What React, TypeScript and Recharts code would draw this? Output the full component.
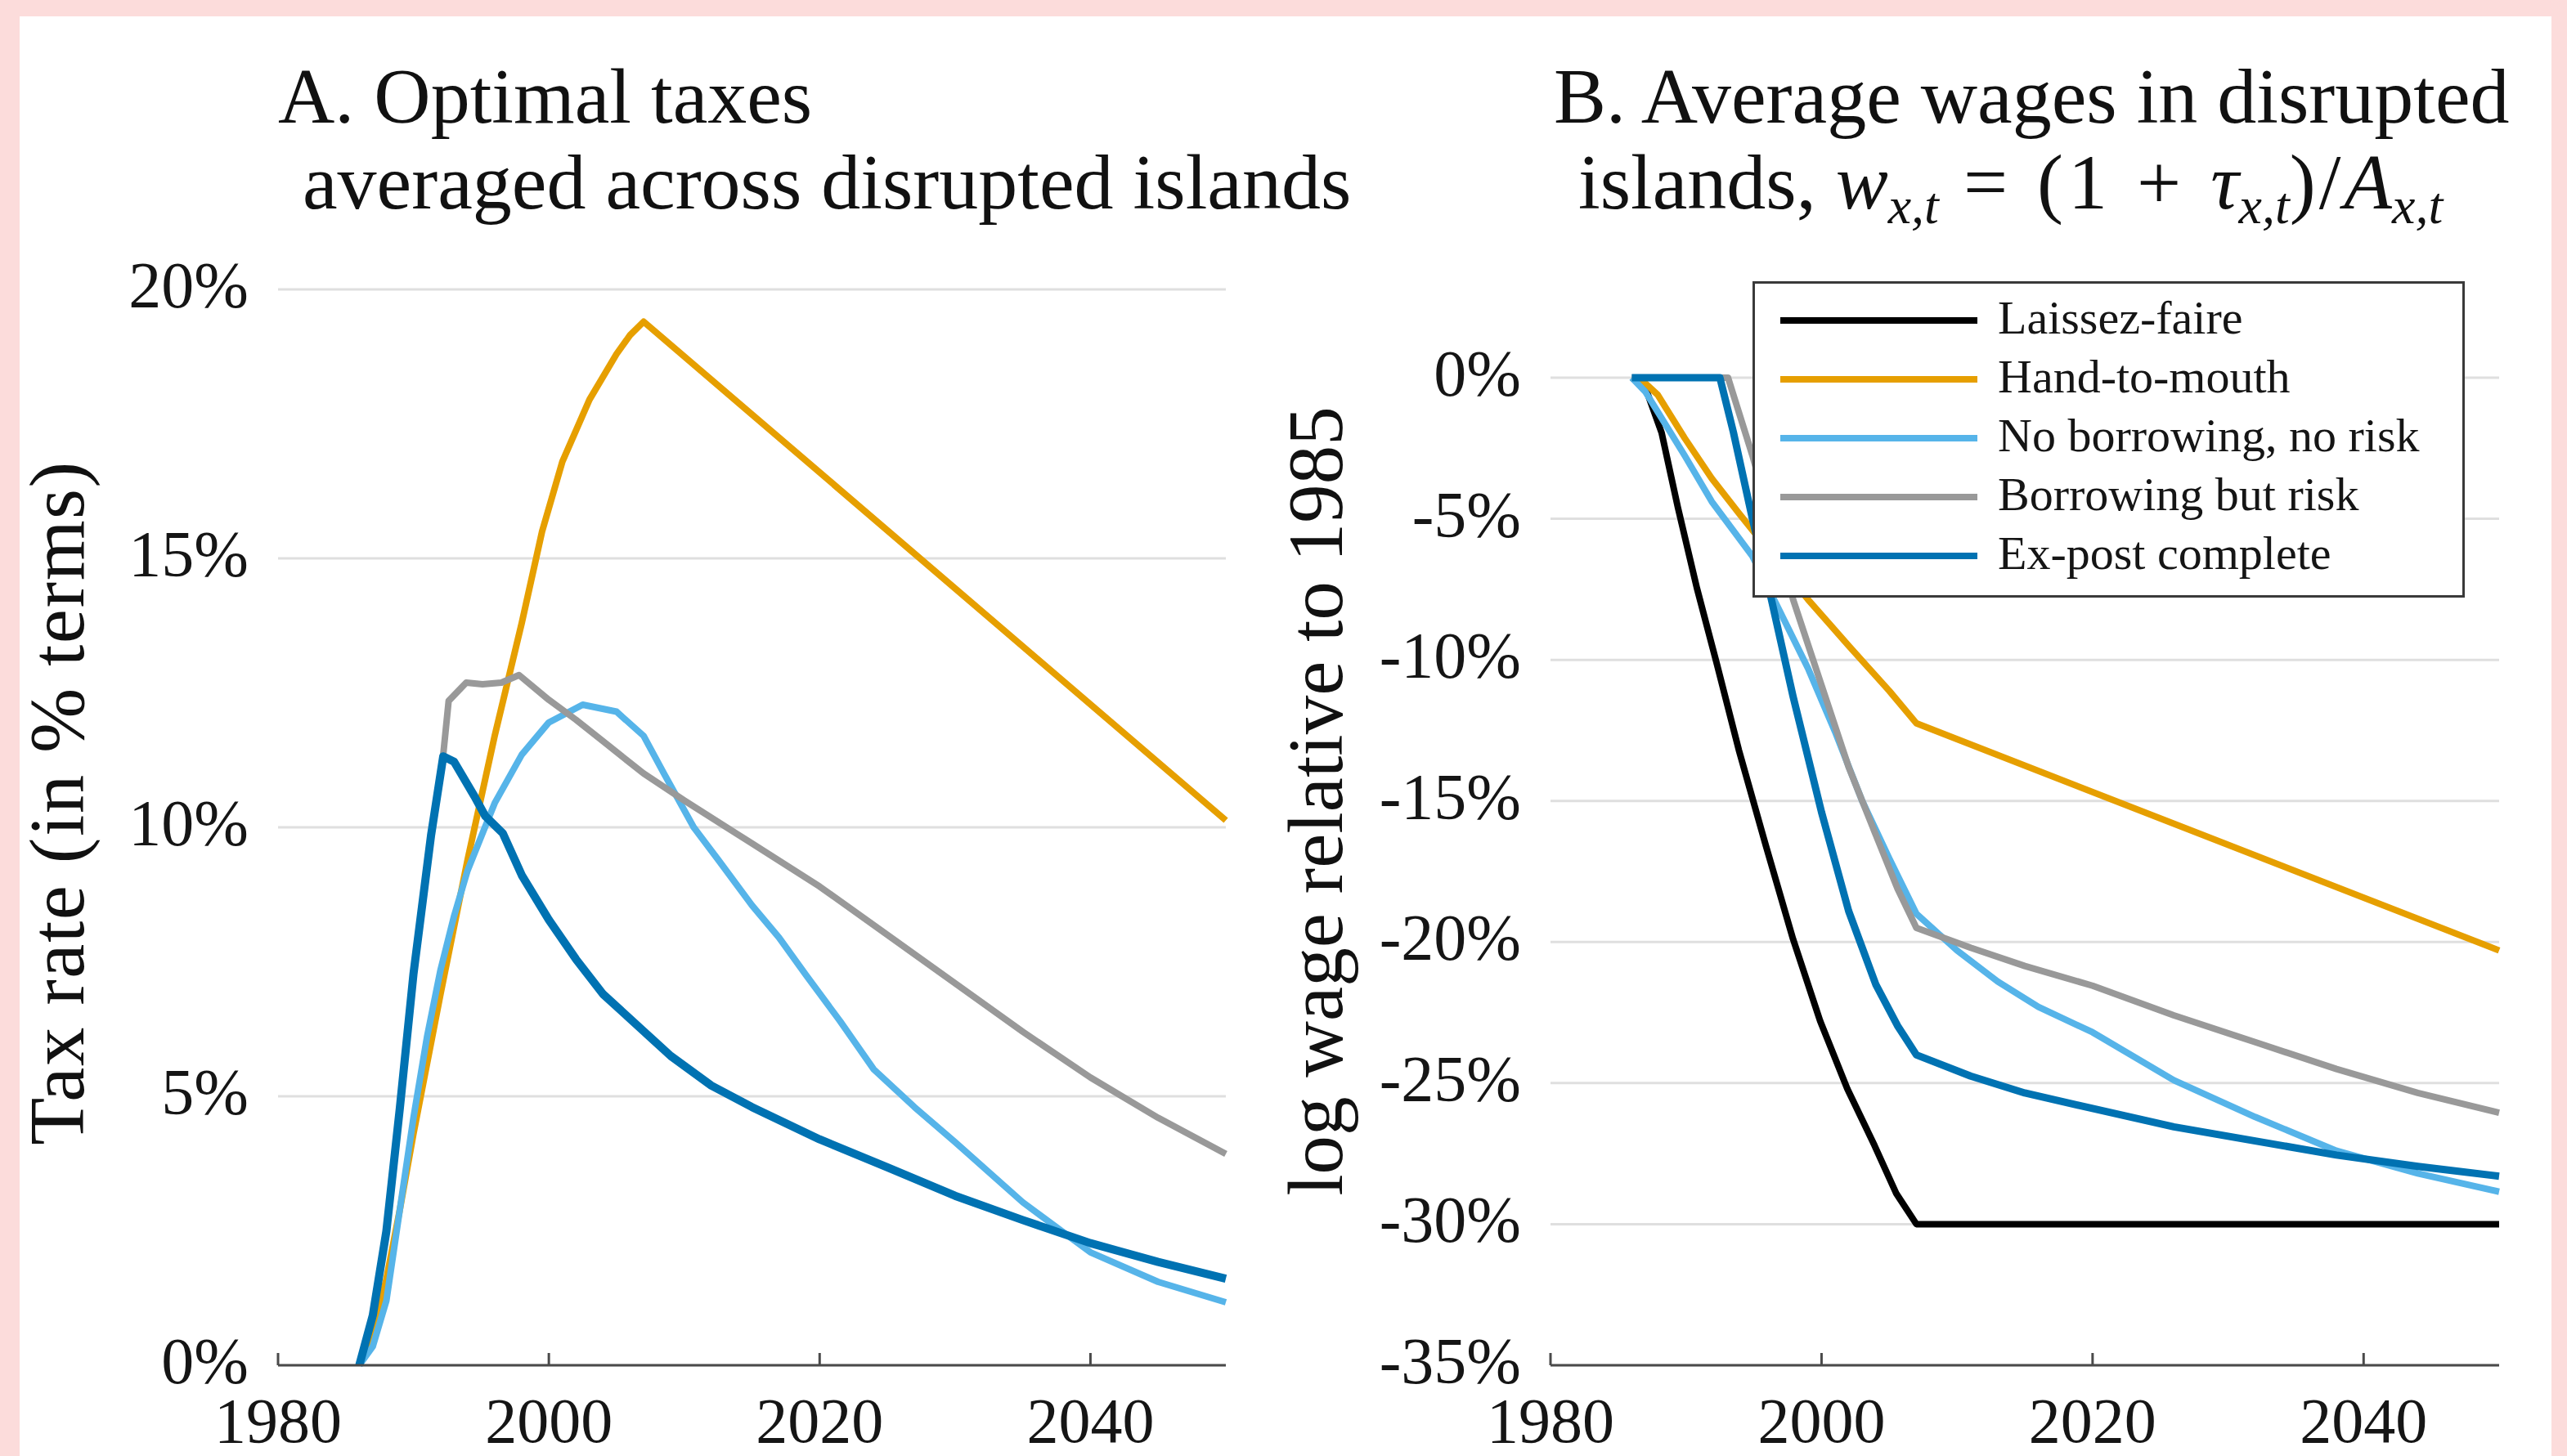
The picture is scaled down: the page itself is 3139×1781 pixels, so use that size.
import React from 'react';
import { LineChart, Line, XAxis, YAxis, CartesianGrid, Legend } from 'recharts';

const FONT = '"Liberation Serif", "Times New Roman", Times, serif';

const YEAR_TICKS = [1980, 2000, 2020, 2040];
const TAX_TICKS = [0, 5, 10, 15, 20];
const WAGE_TICKS = [-35, -30, -25, -20, -15, -10, -5, 0];

const SERIES_NAMES = ['Laissez-faire', 'Hand-to-mouth', 'No borrowing, no risk', 'Borrowing but risk', 'Ex-post complete'];
const SERIES_COLORS = ['#000000', '#E69F00', '#56B4E9', '#999999', '#0072B2'];

// Panel A: optimal taxes (%)
const taxHandYears = [1986, 1987, 1988, 1989, 1990, 1992, 1994, 1996, 1998, 1999.5, 2001, 2003, 2005, 2006, 2007, 2050];
const taxHand = [0, 0.6, 1.6, 2.9, 4.3, 6.9, 9.4, 11.7, 13.8, 15.5, 16.8, 17.95, 18.8, 19.15, 19.4, 10.13];

const taxNoBorrowYears = [1986, 1987, 1988, 1989, 1990, 1991, 1992, 1993, 1994, 1996, 1998, 2000, 2002.5, 2005, 2007, 2008.5, 2010.7, 2012.5, 2015, 2017, 2019, 2021.5, 2024, 2027, 2030, 2035, 2040, 2045, 2050];
const taxNoBorrow = [0, 0.35, 1.2, 2.9, 4.6, 6.1, 7.35, 8.35, 9.2, 10.45, 11.35, 11.95, 12.28, 12.15, 11.7, 11.0, 10.0, 9.4, 8.55, 7.95, 7.25, 6.4, 5.5, 4.8, 4.15, 3.03, 2.1, 1.55, 1.17];

const taxBorrowRiskYears = [1986, 1987, 1988, 1989, 1990, 1991.3, 1992.2, 1992.6, 1993.9, 1995.1, 1996.5, 1997.8, 2000, 2002, 2004, 2007, 2010, 2015, 2020, 2025, 2030, 2035, 2040, 2045, 2050];
const taxBorrowRisk = [0, 0.93, 2.49, 4.79, 7.27, 9.85, 11.35, 12.35, 12.69, 12.66, 12.69, 12.83, 12.37, 12.0, 11.6, 11.0, 10.5, 9.7, 8.9, 8.0, 7.1, 6.2, 5.35, 4.6, 3.93];

const taxExPostYears = [1986, 1987, 1988, 1989, 1990, 1991.3, 1992.2, 1993, 1994.5, 1995.3, 1996.6, 1998, 2000, 2002, 2004, 2007, 2009, 2012, 2015, 2020, 2025, 2030, 2035, 2040, 2045, 2050];
const taxExPost = [0, 0.93, 2.49, 4.79, 7.27, 9.85, 11.32, 11.22, 10.58, 10.21, 9.89, 9.11, 8.28, 7.55, 6.9, 6.21, 5.75, 5.2, 4.8, 4.2, 3.68, 3.15, 2.7, 2.27, 1.92, 1.61];

// Panel B: log wage relative to 1985 (%)
const wageLaissezYears = [1986, 1987, 1988.2, 1989.4, 1990.8, 1992.25, 1993.9, 1995.9, 1997.9, 1999.9, 2001.9, 2003.9, 2005.5, 2007, 2050];
const wageLaissez = [0, -0.35, -1.95, -4.6, -7.45, -10.1, -13.2, -16.6, -19.9, -22.8, -25.2, -27.2, -28.9, -30, -30];

const wageHandYears = [1986, 1987, 1987.9, 1989.9, 1991.9, 1993.9, 1999, 2002, 2005, 2007, 2050];
const wageHand = [0, -0.2, -0.6, -2.14, -3.57, -4.8, -7.86, -9.5, -11.1, -12.25, -20.3];

const wageNoBorrowYears = [1986, 1987, 1989.9, 1991.9, 1994.9, 1996.7, 1999, 2001, 2003, 2005, 2007, 2010, 2013, 2016, 2020, 2026, 2032, 2038, 2044, 2050];
const wageNoBorrow = [0, -0.5, -2.76, -4.39, -6.33, -8.06, -10.3, -12.55, -15.0, -17.04, -19.0, -20.3, -21.4, -22.3, -23.2, -24.9, -26.2, -27.4, -28.2, -28.85];

const wageBorrowRiskYears = [1986, 1993.1, 1994.9, 1997.9, 2000, 2002, 2004, 2005.6, 2007, 2011, 2015, 2020, 2026, 2032, 2038, 2044, 2050];
const wageBorrowRisk = [0, 0, -2.76, -7.86, -10.9, -13.8, -16.2, -18.1, -19.5, -20.2, -20.85, -21.55, -22.6, -23.55, -24.5, -25.35, -26.05];

const wageExPostYears = [1986, 1992.5, 1993.5, 1994.9, 1996.3, 1997.9, 2000, 2002, 2004, 2005.6, 2007, 2011, 2015, 2020, 2026, 2032, 2038, 2044, 2050];
const wageExPost = [0, 0, -1.94, -5.0, -7.86, -11.3, -15.4, -18.9, -21.5, -22.96, -24.0, -24.75, -25.35, -25.9, -26.55, -27.05, -27.55, -27.95, -28.3];

const zip = (ts: number[], vs: number[]) => ts.map((t, i) => ({ t, v: vs[i] }));

const XTick = (props: any) => {
  const { x, y, payload } = props;
  return (
    <g>
      <line x1={x} x2={x} y1={y} y2={y - 15} stroke="#4a4a4a" strokeWidth={3} />
      <text x={x} y={y + 94} textAnchor="middle" fontFamily={FONT} fontSize={78} fill="#151515">
        {payload.value}
      </text>
    </g>
  );
};

const YTick = (props: any) => {
  const { x, y, payload } = props;
  return (
    <text x={x - 36} y={y + 22} textAnchor="end" fontFamily={FONT} fontSize={80} fill="#151515">
      {`${payload.value}%`}
    </text>
  );
};

const LegendBox = () => (
  <div
    style={{
      width: 871,
      height: 387,
      boxSizing: 'border-box',
      border: '3px solid #3a3a3a',
      background: '#ffffff',
      paddingTop: 9,
    }}
  >
    {SERIES_NAMES.map((name, i) => (
      <div key={name} style={{ display: 'flex', alignItems: 'center', height: 72 }}>
        <div style={{ marginLeft: 31, width: 241, height: 8, background: SERIES_COLORS[i] }} />
        <div
          style={{
            marginLeft: 25,
            fontFamily: FONT,
            fontSize: 58,
            lineHeight: 1,
            color: '#151515',
            whiteSpace: 'pre',
            marginTop: -6,
          }}
        >
          {name}
        </div>
      </div>
    ))}
  </div>
);

const lineProps = {
  type: 'linear' as const,
  dataKey: 'v',
  dot: false,
  activeDot: false,
  isAnimationActive: false,
  strokeLinejoin: 'round' as const,
  strokeLinecap: 'butt' as const,
};

const ChartA = () => (
  <LineChart width={1560} height={1781} margin={{ top: 354, right: 61, bottom: 11, left: 0 }}>
    <CartesianGrid vertical={false} stroke="#dfdfdf" strokeWidth={3} />
    <XAxis
      type="number"
      dataKey="t"
      domain={[1980, 2050]}
      ticks={YEAR_TICKS}
      interval={0}
      height={100}
      tickSize={0}
      tickMargin={0}
      tickLine={false}
      axisLine={{ stroke: '#4a4a4a', strokeWidth: 3 }}
      tick={<XTick />}
      allowDuplicatedCategory={false}
    />
    <YAxis
      type="number"
      domain={[0, 20]}
      ticks={TAX_TICKS}
      interval={0}
      width={340}
      tickSize={0}
      tickMargin={0}
      tickLine={false}
      axisLine={false}
      tick={<YTick />}
    />
    <Line {...lineProps} data={zip(taxHandYears, taxHand)} name={SERIES_NAMES[1]} stroke={SERIES_COLORS[1]} strokeWidth={8} />
    <Line {...lineProps} data={zip(taxNoBorrowYears, taxNoBorrow)} name={SERIES_NAMES[2]} stroke={SERIES_COLORS[2]} strokeWidth={8} />
    <Line {...lineProps} data={zip(taxBorrowRiskYears, taxBorrowRisk)} name={SERIES_NAMES[3]} stroke={SERIES_COLORS[3]} strokeWidth={8} />
    <Line {...lineProps} data={zip(taxExPostYears, taxExPost)} name={SERIES_NAMES[4]} stroke={SERIES_COLORS[4]} strokeWidth={10} />
  </LineChart>
);

const ChartB = () => (
  <LineChart width={1579} height={1781} margin={{ top: 462, right: 83, bottom: 11, left: 0 }}>
    <CartesianGrid vertical={false} stroke="#dfdfdf" strokeWidth={3} />
    <XAxis
      type="number"
      dataKey="t"
      domain={[1980, 2050]}
      ticks={YEAR_TICKS}
      interval={0}
      height={100}
      tickSize={0}
      tickMargin={0}
      tickLine={false}
      axisLine={{ stroke: '#4a4a4a', strokeWidth: 3 }}
      tick={<XTick />}
      allowDuplicatedCategory={false}
    />
    <YAxis
      type="number"
      domain={[-35, 0]}
      ticks={WAGE_TICKS}
      interval={0}
      width={336}
      tickSize={0}
      tickMargin={0}
      tickLine={false}
      axisLine={false}
      tick={<YTick />}
    />
    <Line {...lineProps} data={zip(wageLaissezYears, wageLaissez)} name={SERIES_NAMES[0]} stroke={SERIES_COLORS[0]} strokeWidth={8} />
    <Line {...lineProps} data={zip(wageHandYears, wageHand)} name={SERIES_NAMES[1]} stroke={SERIES_COLORS[1]} strokeWidth={8} />
    <Line {...lineProps} data={zip(wageNoBorrowYears, wageNoBorrow)} name={SERIES_NAMES[2]} stroke={SERIES_COLORS[2]} strokeWidth={8} />
    <Line {...lineProps} data={zip(wageBorrowRiskYears, wageBorrowRisk)} name={SERIES_NAMES[3]} stroke={SERIES_COLORS[3]} strokeWidth={8} />
    <Line {...lineProps} data={zip(wageExPostYears, wageExPost)} name={SERIES_NAMES[4]} stroke={SERIES_COLORS[4]} strokeWidth={9} />
    <Legend
      layout="vertical"
      align="center"
      verticalAlign="middle"
      wrapperStyle={{ left: 583, top: 344, width: 871, height: 387 }}
      content={() => <LegendBox />}
    />
  </LineChart>
);

const SUB = { fontSize: 64, fontStyle: 'italic' as const };

const Overlay = () => (
  <svg
    width={3139}
    height={1781}
    style={{ position: 'absolute', left: 0, top: 0, pointerEvents: 'none' }}
  >
    <g fontFamily={FONT} fill="#111111" style={{ whiteSpace: 'pre' }}>
      <text x={340} y={150} fontSize={96}>A. Optimal taxes</text>
      <text x={370} y={255} fontSize={96}>averaged across disrupted islands</text>
      <text x={1900} y={150} fontSize={96}>B. Average wages in disrupted</text>
      <text x={1930} y={255} fontSize={96}>
        <tspan>islands, </tspan>
        <tspan fontStyle="italic">w</tspan>
        <tspan {...SUB} dy={18}>x,t</tspan>
        <tspan dy={-18} letterSpacing={6}>{' = (1 + '}</tspan>
        <tspan fontStyle="italic">τ</tspan>
        <tspan {...SUB} dy={18}>x,t</tspan>
        <tspan dy={-18} letterSpacing={4}>)/</tspan>
        <tspan fontStyle="italic">A</tspan>
        <tspan {...SUB} dy={18}>x,t</tspan>
      </text>
      <text
        x={102}
        y={982}
        fontSize={95}
        textAnchor="middle"
        letterSpacing={1.5}
        transform="rotate(-90 102 982)"
      >
        Tax rate (in % terms)
      </text>
      <text
        x={1641}
        y={980}
        fontSize={95}
        textAnchor="middle"
        letterSpacing={0}
        transform="rotate(-90 1641 980)"
      >
        log wage relative to 1985
      </text>
    </g>
  </svg>
);

export default function App() {
  return (
    <div style={{ position: 'relative', width: 3139, height: 1781, background: '#fcdcdb', overflow: 'hidden' }}>
      <style>{'body{margin:0;}'}</style>
      <div style={{ position: 'absolute', left: 24, top: 20, width: 3096, height: 1761, background: '#ffffff' }} />
      <div style={{ position: 'absolute', left: 0, top: 0 }}>
        <ChartA />
      </div>
      <div style={{ position: 'absolute', left: 1560, top: 0 }}>
        <ChartB />
      </div>
      <Overlay />
    </div>
  );
}
